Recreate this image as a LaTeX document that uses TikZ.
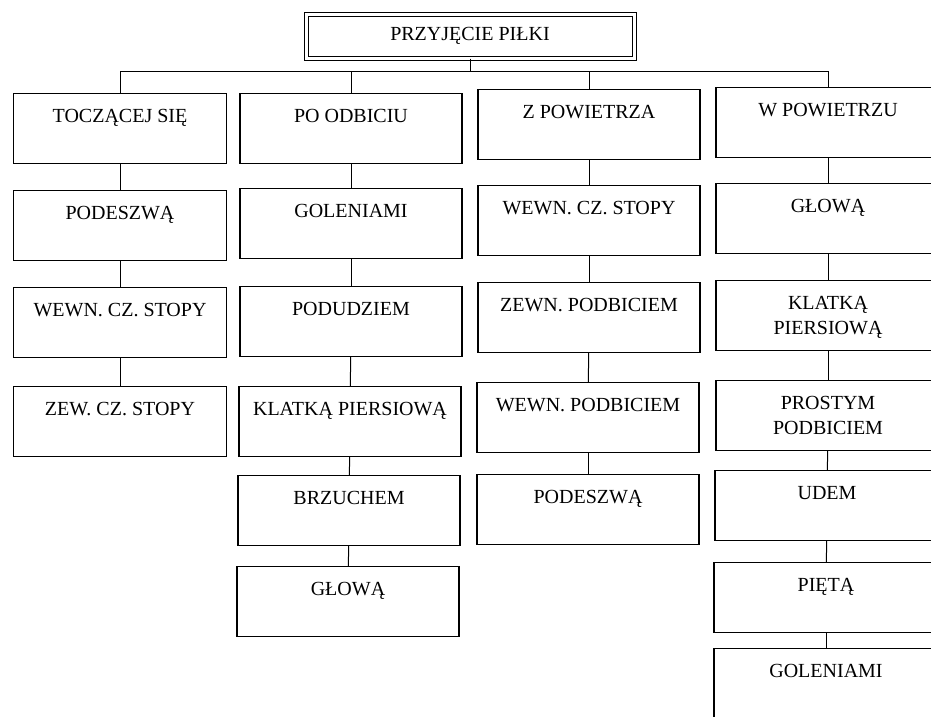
\documentclass[tikz,border=0pt]{standalone}
\usepackage{fontspec}
\setmainfont{Liberation Serif}

\begin{document}
\begin{tikzpicture}[x=1pt, y=-1pt,
    box/.style={draw, line width=1.1pt, anchor=north, minimum width=222pt,
      minimum height=70pt, inner ysep=0pt, text height=29pt, text depth=41pt,
      align=center, font=\fontsize{20}{25}\selectfont},
    box2/.style={box, text height=54pt, text depth=16pt},
    link/.style={line width=1pt}]
  \useasboundingbox (0,0) rectangle (931,716);
  \clip (0,0) rectangle (931,716);

  % root
  \node[draw, double, double distance=3pt, line width=1pt, minimum width=328pt,
    minimum height=44pt, font=\fontsize{20}{25}\selectfont] (root) at (470,36) {PRZYJĘCIE PIŁKI};
  \coordinate (bus) at (120,71);

  % column 1
  \node[box, minimum width=213pt] (c1a) at (120,93) {TOCZĄCEJ SIĘ};
  \node[box, minimum width=213pt] (c1b) at (120,190) {PODESZWĄ};
  \node[box, minimum width=213pt] (c1c) at (120,287) {WEWN. CZ. STOPY};
  \node[box, minimum width=213pt] (c1d) at (120,386) {ZEW. CZ. STOPY};

  % column 2
  \node[box] (c2a) at (351,93) {PO ODBICIU};
  \node[box] (c2b) at (351,188) {GOLENIAMI};
  \node[box] (c2c) at (351,286) {PODUDZIEM};
  \node[box] (c2d) at (350,386) {KLATKĄ PIERSIOWĄ};
  \node[box] (c2e) at (349,475) {BRZUCHEM};
  \node[box] (c2f) at (348,566) {GŁOWĄ};

  % column 3
  \node[box] (c3a) at (589,89) {Z POWIETRZA};
  \node[box] (c3b) at (589,185) {WEWN. CZ. STOPY};
  \node[box] (c3c) at (589,282) {ZEWN. PODBICIEM};
  \node[box] (c3d) at (588,382) {WEWN. PODBICIEM};
  \node[box] (c3e) at (588,474) {PODESZWĄ};

  % column 4
  \node[box, minimum width=224pt] (c4a) at (828,87) {W POWIETRZU};
  \node[box, minimum width=224pt] (c4b) at (828,183) {GŁOWĄ};
  \node[box2, minimum width=224pt] (c4c) at (828,280) {KLATKĄ\\PIERSIOWĄ};
  \node[box2, minimum width=224pt] (c4d) at (828,380) {PROSTYM\\PODBICIEM};
  \node[box, minimum width=224pt] (c4e) at (827,470) {UDEM};
  \node[box, minimum width=224pt] (c4f) at (826,562) {PIĘTĄ};
  \node[box, minimum width=224pt] (c4g) at (826,648) {GOLENIAMI};

  % connectors
  \draw[link] (root.south) -- (root.south |- bus);
  \draw[link] (c1a.north |- bus) -- (c4a.north |- bus);
  \foreach \top in {c1a,c2a,c3a,c4a}
    \draw[link] (\top.north |- bus) -- (\top.north);
  \foreach \a/\b in {c1a/c1b, c1b/c1c, c1c/c1d,
      c2a/c2b, c2b/c2c, c2c/c2d, c2d/c2e, c2e/c2f,
      c3a/c3b, c3b/c3c, c3c/c3d, c3d/c3e,
      c4a/c4b, c4b/c4c, c4c/c4d, c4d/c4e, c4e/c4f, c4f/c4g}
    \draw[link] (\a) -- (\b);
\end{tikzpicture}
\end{document}
